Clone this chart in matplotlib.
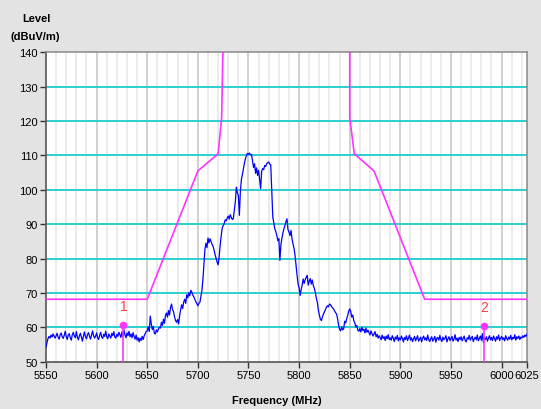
import numpy as np
import matplotlib
matplotlib.use("Agg")
import matplotlib.pyplot as plt

plt.rcParams['font.family'] = ['Liberation Sans', 'DejaVu Sans']

# measured level (dBuV/m), 1 MHz steps
noise_low = [  # 5550 - 5649 MHz
    54.3, 55.6, 56.8, 57.4, 56.9, 57.8, 57.2, 58.1, 57.5, 56.9,
    57.6, 58.3, 57.1, 56.6, 57.9, 58.4, 57.3, 56.8, 57.7, 58.9,
    57.4, 56.5, 57.8, 58.2, 57.0, 56.3, 57.9, 58.6, 57.5, 57.0,
    58.8, 57.2, 56.4, 57.6, 58.3, 57.1, 56.0, 57.5, 58.7, 57.3,
    56.7, 57.9, 58.5, 57.4, 56.6, 57.8, 59.0, 57.6, 56.9, 57.5,
    58.4, 57.0, 56.5, 57.7, 58.6, 57.2, 56.8, 58.0, 57.4, 58.9,
    57.3, 56.7, 58.1, 57.5, 56.9, 58.3, 57.6, 58.8, 57.2, 56.9,
    58.0, 57.4, 58.6, 57.9, 57.1, 58.7, 57.3, 59.3, 57.8, 57.0,
    58.4, 57.6, 58.9, 57.3, 58.1, 57.0, 58.5, 57.4, 56.6, 57.8,
    56.3, 57.0, 55.8, 56.9, 56.2, 57.4, 56.5, 57.6, 58.2, 58.9,
]
emission = [  # 5650 - 5879 MHz
    59.0, 60.2, 58.8, 63.3, 61.0, 59.4, 60.3, 58.3, 58.1, 59.3,
    58.7, 59.5, 60.1, 59.8, 61.5, 60.6, 62.4, 61.2, 63.5, 64.2,
    63.0, 64.9, 63.6, 65.8, 66.8, 65.2, 64.6, 63.0, 62.0, 61.5,
    62.3, 61.0, 63.4, 65.2, 66.6, 65.5, 67.4, 68.2, 67.0, 69.5,
    68.6, 70.1, 69.2, 70.8, 70.3, 69.4, 68.9, 68.2, 67.5, 66.9,
    66.3, 67.0, 67.3, 69.0, 70.7, 74.0, 78.5, 82.8, 84.5, 83.2,
    86.0, 84.6, 85.8, 85.0, 84.2, 83.6, 82.5, 81.2, 80.1, 79.0,
    78.2, 80.5, 83.8, 86.5, 88.9, 89.6, 90.2, 91.3, 91.0, 91.8,
    92.4, 91.5, 92.8, 92.0, 91.4, 91.6, 94.0, 96.5, 100.8, 99.2,
    98.3, 92.6, 99.6, 103.0, 104.5, 106.2, 107.8, 109.1, 110.0, 110.6,
    110.4, 110.7, 110.2, 110.3, 108.5, 106.5, 107.6, 104.8, 106.4, 104.2,
    105.7, 103.0, 100.4, 105.4, 106.2, 105.9, 107.1, 106.8, 107.6, 107.9,
    108.1, 107.5, 107.2, 99.8, 92.1, 90.3, 88.7, 87.9, 86.7, 85.2,
    85.8, 79.5, 84.0, 85.9, 87.5, 88.7, 89.6, 90.8, 91.6, 88.5,
    87.7, 86.7, 88.2, 85.8, 84.2, 83.0, 80.9, 78.0, 75.1, 72.6,
    71.5, 69.3, 71.0, 72.3, 74.1, 72.8, 73.9, 74.6, 75.1, 72.3,
    73.5, 74.2, 72.6, 73.8, 72.2, 71.4, 70.2, 68.5, 67.3, 65.0,
    63.6, 62.4, 62.0, 63.1, 63.9, 64.5, 65.2, 65.9, 66.3, 66.0,
    66.8, 66.6, 66.1, 65.7, 65.4, 64.8, 64.3, 63.9, 62.5, 60.6,
    59.4, 59.0, 60.2, 59.3, 59.6, 61.8, 61.3, 62.6, 63.5, 64.8,
    65.4, 64.6, 63.0, 63.6, 62.0, 61.3, 60.1, 60.6, 59.2, 58.9,
    59.7, 58.7, 60.0, 59.1, 59.5, 58.4, 59.8, 58.6, 59.2, 58.5,
    57.8, 59.0, 58.2, 57.5, 58.1, 58.8, 57.3, 58.0, 56.9, 57.6,
]
noise_high = [  # 5880 - 6025 MHz
    57.1, 56.4, 57.8, 56.8, 57.3, 56.2, 57.5, 56.7, 57.9, 56.5,
    57.0, 56.3, 57.6, 56.9, 55.9, 57.2, 56.6, 57.7, 56.1, 57.0,
    56.4, 57.5, 56.8, 55.8, 57.1, 56.5, 57.6, 56.2, 56.9, 57.8,
    56.3, 57.0, 55.9, 56.7, 57.4, 56.1, 56.8, 57.6, 56.0, 56.6,
    57.2, 55.8, 56.9, 57.5, 56.4, 57.0, 56.2, 57.8, 56.5, 55.9,
    56.8, 57.3, 56.0, 56.6, 57.4, 55.7, 56.9, 57.1, 56.3, 57.7,
    56.5, 55.9, 57.2, 56.4, 56.9, 57.6, 55.8, 56.7, 57.3, 56.2,
    56.8, 57.4, 56.0, 56.6, 57.9, 56.3, 56.9, 55.9, 57.1, 56.5,
    57.3, 56.1, 56.8, 57.5, 56.2, 55.8, 57.0, 56.6, 57.7, 56.3,
    56.9, 57.4, 55.9, 56.7, 57.2, 56.4, 57.8, 56.1, 56.8, 57.5,
    56.3, 58.2, 55.6, 57.0, 56.5, 57.3, 56.0, 56.9, 57.6, 56.4,
    57.1, 56.2, 57.5, 56.8, 56.0, 57.3, 56.6, 57.8, 56.2, 56.9,
    57.4, 56.5, 57.0, 56.1, 57.6, 56.8, 56.3, 57.2, 56.6, 57.7,
    56.4, 57.1, 56.7, 57.9, 56.3, 57.3, 56.8, 57.5, 56.5, 57.2,
    56.9, 57.6, 57.1, 57.8, 57.4, 58.0,
]

# emission mask (limit line)
mask_freq = [5550, 5650, 5700, 5720, 5723.5, 5725, 5850, 5850, 5854.5, 5874, 5924, 6025]
mask_level = [68.2, 68.2, 105.5, 110.5, 121, 145, 145, 121, 110.5, 105.5, 68.2, 68.2]

# markers
marker_names = ['1', '2']
marker_freq = [5626.5, 5982.5]
marker_level = [60.7, 60.3]

x_ticks = [5550, 5600, 5650, 5700, 5750, 5800, 5850, 5900, 5950, 6000, 6025]
y_ticks = [50, 60, 70, 80, 90, 100, 110, 120, 130, 140]

level = noise_low + emission + noise_high
freq = np.arange(5550, 5550 + len(level))

fig = plt.figure(figsize=(5.41, 4.10), dpi=100, facecolor='#e3e3e3')
ax = fig.add_axes([0.085, 0.115, 0.889, 0.755])
ax.set_facecolor('white')

# grid
for f in range(5560, 6025, 10):
    c = '#c4c4c4' if f % 50 == 0 else '#e6e6e6'
    ax.axvline(f, color=c, lw=1.1, zorder=1)
for lv in y_ticks[1:-1]:
    ax.axhline(lv, color='#2ccfcf', lw=1.4, zorder=2)

ax.plot(mask_freq, mask_level, color='#ff33ff', lw=1.2, zorder=3)
ax.plot(freq, level, color='#0000ff', lw=0.9, zorder=4)

for name, f, lv in zip(marker_names, marker_freq, marker_level):
    ax.plot([f, f], [50, lv], color='#ff33ff', lw=1.2, zorder=5)
    ax.plot(f, lv, 'o', color='#ff33ff', ms=4.5, zorder=6)
    ax.text(f, lv + 3.5, name, color='#ff4040', fontsize=10, ha='center', va='bottom', zorder=6)

ax.set_xlim(5550, 6025)
ax.set_ylim(50, 140)
ax.set_xticks(x_ticks)
ax.set_yticks(y_ticks)
ax.tick_params(axis='both', labelsize=8, length=4, width=1, color='#333333', pad=2)
for s in ax.spines.values():
    s.set_color('#909090')
    s.set_linewidth(1.2)
ax.spines['left'].set_color('#555555')
ax.spines['bottom'].set_color('#555555')

fig.text(0.068, 0.954, 'Level', fontsize=8, fontweight='bold', ha='center', va='center')
fig.text(0.065, 0.91, '(dBuV/m)', fontsize=8, fontweight='bold', ha='center', va='center')
fig.text(0.512, 0.022, 'Frequency (MHz)', fontsize=8, fontweight='bold', ha='center', va='center')

fig.savefig('out.png', dpi=100, facecolor=fig.get_facecolor())
